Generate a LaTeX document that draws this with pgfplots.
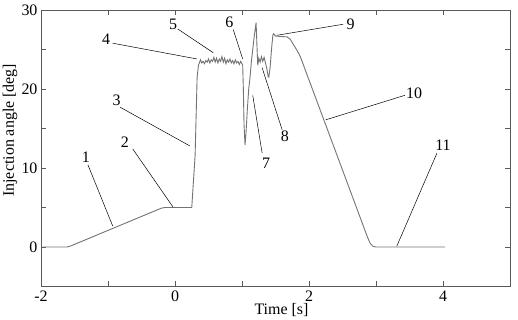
\documentclass[border=0pt]{standalone}
\usepackage{fontspec}
\setmainfont{Liberation Serif}
\usepackage{pgfplots}
\pgfplotsset{compat=1.18}
\begin{document}
\begin{tikzpicture}
\begin{axis}[
  scale only axis, width=470pt, height=277pt,
  xmin=-2, xmax=5, ymin=-5, ymax=30,
  xtick={-2,-1,0,1,2,3,4,5}, xticklabels={-2,,0,,2,,4,},
  ytick={-5,0,5,10,15,20,25,30}, yticklabels={,0,,10,,20,,30},
  tick align=inside, major tick length=5pt,
  axis line style={black!65, line width=0.7pt},
  every tick/.style={black!65, line width=0.6pt},
  ticklabel style={font=\fontsize{16}{18}\selectfont},
  xticklabel style={yshift=-1pt},
  /pgf/number format/assume math mode=true,
  label style={font=\fontsize{16}{18}\selectfont},
  xlabel={Time [s]}, ylabel={Injection angle [deg]},
  xlabel style={at={(axis description cs:0.5,0)}, anchor=center, yshift=-24pt, xshift=6pt},
  ylabel style={at={(axis description cs:0,0.565)}, anchor=center, yshift=31pt},
  clip=false,
]
\addplot[black!55, line width=0.9pt] coordinates {
(-1.97,0) (-1.61,0) (-1.55,0.15) (-1.48,0.4) (-0.25,4.75) (-0.20,4.92) (-0.15,5.0) (0.25,5.0)
(0.30,11.6) (0.33,21.5) (0.35,23.0) (0.38,23.7)
(0.40,23.3) (0.42,23.5) (0.44,23.2) (0.46,23.6) (0.48,23.4) (0.50,23.8) (0.52,23.3) (0.54,23.7)
(0.56,23.5) (0.58,24.0) (0.60,23.4) (0.62,23.9) (0.64,23.3) (0.66,23.8) (0.68,23.5) (0.70,24.1)
(0.72,23.4) (0.74,23.9) (0.76,23.2) (0.78,23.7) (0.80,23.4) (0.82,23.8) (0.84,23.3) (0.86,23.6)
(0.88,23.2) (0.90,23.7) (0.92,23.3) (0.94,23.5) (0.96,23.1) (0.98,23.5) (1.00,23.2) (1.01,23.0)
(1.02,20.0) (1.03,15.5) (1.045,12.9) (1.06,14.5) (1.08,17.5) (1.10,20.0) (1.12,21.5) (1.14,23.5)
(1.16,25.0) (1.18,26.5) (1.20,27.8) (1.21,28.4) (1.225,25.0) (1.235,23.0) (1.25,23.9) (1.27,23.4)
(1.29,24.1) (1.31,23.5) (1.33,24.0) (1.35,23.3) (1.37,22.6) (1.39,21.6) (1.40,21.5) (1.42,22.8)
(1.44,25.0) (1.46,26.8) (1.47,27.0) (1.50,26.7) (1.67,26.6) (1.72,26.3) (1.77,25.6) (1.82,24.9)
(1.87,24.1) (2.87,1.3) (2.91,0.5) (2.95,0.1) (2.99,0) (4.03,0)
};
\begin{scope}[every node/.style={font=\fontsize{16}{18}\selectfont, inner sep=1pt}]
\draw[black, line width=0.5pt] (axis cs:-1.30,10.4) -- (axis cs:-0.93,2.66);
\node at (axis cs:-1.33,11.4) {1};
\draw[black, line width=0.5pt] (axis cs:-0.63,12.4) -- (axis cs:-0.03,5.06);
\node at (axis cs:-0.75,13.3) {2};
\draw[black, line width=0.5pt] (axis cs:-0.82,17.7) -- (axis cs:0.22,12.8);
\node at (axis cs:-0.87,18.6) {3};
\draw[black, line width=0.5pt] (axis cs:-0.93,25.8) -- (axis cs:0.33,23.8);
\node at (axis cs:-1.03,26.3) {4};
\draw[black, line width=0.5pt] (axis cs:0.04,27.6) -- (axis cs:0.57,24.6);
\node at (axis cs:-0.03,28.2) {5};
\draw[black, line width=0.5pt] (axis cs:0.87,27.5) -- (axis cs:1.01,23.8);
\node at (axis cs:0.81,28.5) {6};
\draw[black, line width=0.5pt] (axis cs:1.16,19.2) -- (axis cs:1.30,11.9);
\node at (axis cs:1.36,10.6) {7};
\draw[black, line width=0.5pt] (axis cs:1.30,22.7) -- (axis cs:1.60,14.8);
\node at (axis cs:1.64,14.0) {8};
\draw[black, line width=0.5pt] (axis cs:1.52,26.8) -- (axis cs:2.51,28.2);
\node at (axis cs:2.62,28.2) {9};
\draw[black, line width=0.5pt] (axis cs:2.25,16.1) -- (axis cs:3.43,19.2);
\node at (axis cs:3.57,19.4) {10};
\draw[black, line width=0.5pt] (axis cs:3.91,11.9) -- (axis cs:3.31,0.1);
\node at (axis cs:4.0,12.9) {11};
\end{scope}
\coordinate (bl) at (axis cs:-2.612,-9.24);
\coordinate (tr) at (axis cs:5.119,31.27);
\end{axis}
\pgfresetboundingbox
\path (bl) rectangle (tr);
\end{tikzpicture}
\end{document}
